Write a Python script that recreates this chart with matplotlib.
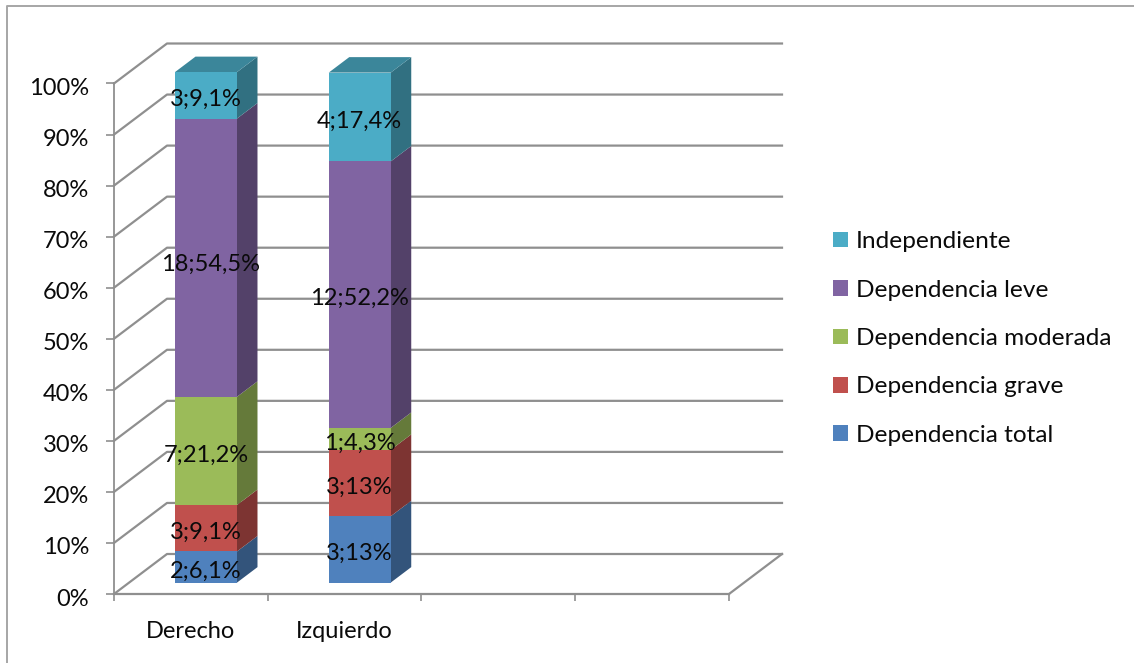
import matplotlib
matplotlib.use("Agg")
import matplotlib.pyplot as plt
from matplotlib.patches import Patch, Rectangle
from matplotlib.transforms import ScaledTranslation

plt.rcParams['font.family'] = ['Lato', 'DejaVu Sans']

W = 1134
H = 663

categories = ["Derecho", "Izquierdo"]
series = ["Dependencia total", "Dependencia grave", "Dependencia moderada", "Dependencia leve", "Independiente"]
colors = ["#4F81BD", "#C0504D", "#9BBB59", "#8064A2", "#4BACC6"]

#percent of each group, from the data labels
derecho = [6.1, 9.1, 21.2, 54.5, 9.1]
izquierdo = [13.0, 13.0, 4.3, 52.2, 17.4]
labels_derecho = ["2;6,1%", "3;9,1%", "7;21,2%", "18;54,5%", "3;9,1%"]
labels_izquierdo = ["3;13%", "3;13%", "1;4,3%", "12;52,2%", "4;17,4%"]

y_ticks = [0, 10, 20, 30, 40, 50, 60, 70, 80, 90, 100]
y_labels = ["0%", "10%", "20%", "30%", "40%", "50%", "60%", "70%", "80%", "90%", "100%"]
n_slots = 4

#fake 3d, all in data units
depth_x = 53 / 153.75
depth_y = 40 / 5.105
bar_width = 62 / 153.75
bar_start = 0.285
bar_depth = 0.387
grid_color = "#8F8F8F"
font_size = 17.0
text_color = "#0A0A0A"

def darker(color, k):
    r, g, b = matplotlib.colors.to_rgb(color)
    return (r * k, g * k, b * k)

fig = plt.figure(figsize=(W / 100, H / 100), dpi=100)
ax = fig.add_axes([114 / W, 1 - 594 / H, 615 / W, 510.5 / H])
ax.set_xlim(0, n_slots)
ax.set_ylim(0, 100)
for s in ax.spines.values():
    s.set_visible(False)
ax.spines['left'].set_visible(True)
ax.spines['bottom'].set_visible(True)
ax.spines['left'].set_color(grid_color)
ax.spines['bottom'].set_color(grid_color)
ax.spines['left'].set_linewidth(1.3)
ax.spines['bottom'].set_linewidth(1.6)

ax.set_yticks(y_ticks)
ax.set_yticklabels(y_labels, fontsize=font_size, color=text_color)
ax.tick_params(axis='y', length=6, width=1.2, color=grid_color, pad=12)
ax.set_xticks(range(n_slots + 1))
ax.set_xticklabels([])
ax.tick_params(axis='x', which='major', length=5, width=1.2, color=grid_color)
ax.set_xticks([0.5, 1.5], minor=True)
ax.set_xticklabels(categories, minor=True, fontsize=font_size, color=text_color)
ax.tick_params(axis='x', which='minor', length=0, pad=19.5)

#y labels sit a bit under their ticks in the original
shift = ScaledTranslation(0, -3 / 100, fig.dpi_scale_trans)
for t in ax.get_yticklabels():
    t.set_transform(t.get_transform() + shift)

#side wall and back wall lines
for v in y_ticks:
    ax.plot([0, depth_x, n_slots + depth_x], [v, v + depth_y, v + depth_y],
            color=grid_color, lw=1.6, clip_on=False, zorder=1)
ax.plot([n_slots, n_slots + depth_x], [0, depth_y], color=grid_color, lw=1.6, clip_on=False, zorder=1)

#bars
for i, (values, labels) in enumerate([(derecho, labels_derecho), (izquierdo, labels_izquierdo)]):
    x0 = i + (1 - bar_width) / 2 + bar_start * depth_x
    x1 = x0 + bar_width
    dx = bar_depth * depth_x
    dy = bar_depth * depth_y
    base = bar_start * depth_y
    for val, lab, col in zip(values, labels, colors):
        top = base + val
        ax.fill([x1, x1 + dx, x1 + dx, x1], [base, base + dy, top + dy, top],
                color=darker(col, 0.65), lw=0, clip_on=False, zorder=3)
        ax.add_patch(Rectangle((x0, base), bar_width, val, facecolor=col, lw=0, clip_on=False, zorder=4))
        base = top
    ax.fill([x0, x1, x1 + dx, x0 + dx], [base, base, base + dy, base + dy],
            color=darker(colors[-1], 0.78), lw=0, clip_on=False, zorder=3)
    #labels go on top of everything
    base = bar_start * depth_y
    for val, lab in zip(values, labels):
        lx = (x0 + x1) / 2
        ly = base + val / 2 - 0.8
        #this one label was nudged in the original
        if lab == "18;54,5%":
            lx += 5 / 153.75
            ly -= 3 / 5.105
        ax.text(lx, ly, lab, ha='center', va='center',
                fontsize=font_size, color=text_color, clip_on=False, zorder=6)
        base += val

handles = [Patch(facecolor=c, edgecolor='none', label=s) for c, s in zip(colors, series)][::-1]
fig.legend(handles=handles, loc='center left', bbox_to_anchor=(833 / W, 1 - 338.5 / H), frameon=False,
           fontsize=17.6, handlelength=0.61, handleheight=0.61, handletextpad=0.33,
           labelspacing=1.12, labelcolor=text_color, borderpad=0, borderaxespad=0)

#chart area border
fig.add_artist(plt.Line2D([7 / W, 7 / W, 1], [0, 1 - 5.5 / H, 1 - 5.5 / H], color="#A6A6A6", lw=1.4))

fig.savefig("out.png", dpi=100)
